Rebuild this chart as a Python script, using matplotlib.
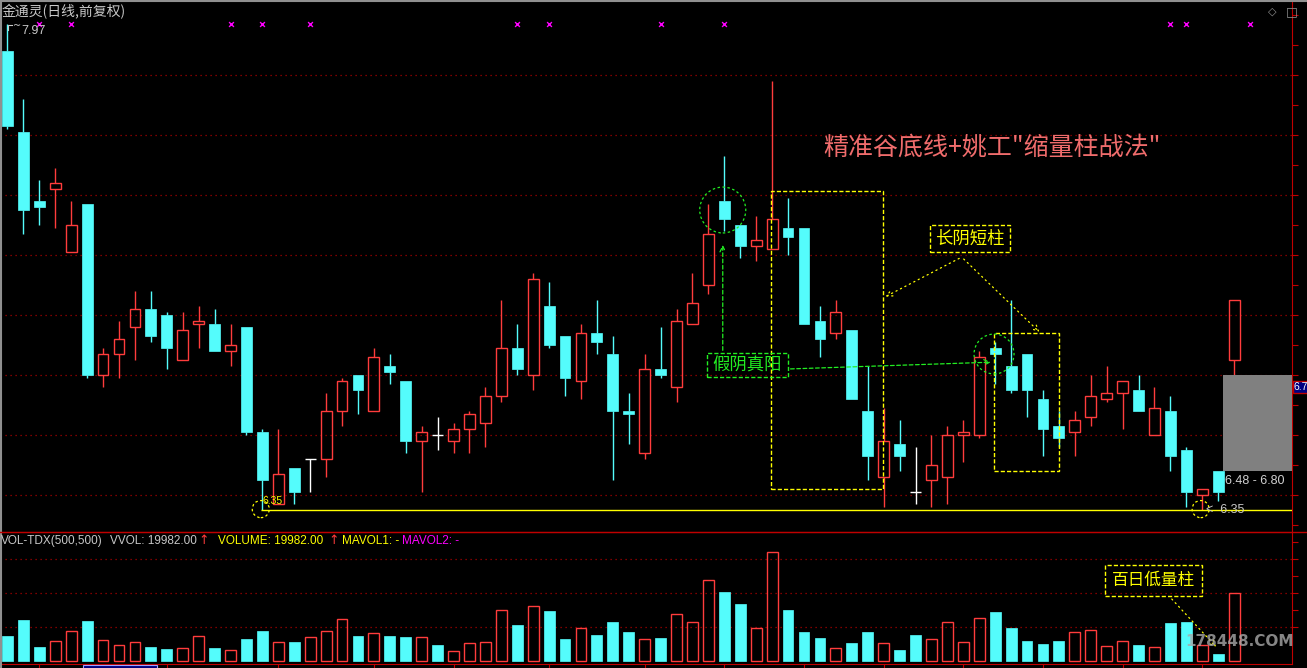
import matplotlib
matplotlib.use("Agg")
import matplotlib.pyplot as plt
from matplotlib.patches import Rectangle, Ellipse

plt.rcParams['font.family'] = ['Noto Sans CJK SC', 'DejaVu Sans']

# ---- données (cours journaliers) ----
opens = [7.88, 7.61, 7.38, 7.42, 7.21, 7.37, 6.80, 6.87, 6.96, 7.02,
         7.00, 6.85, 6.97, 6.97, 6.88, 6.96, 6.61, 6.37, 6.49, 6.52,
         6.52, 6.68, 6.80, 6.68, 6.83, 6.78, 6.58, 6.60, 6.58, 6.62,
         6.64, 6.73, 6.89, 6.80, 7.03, 6.93, 6.78, 6.94, 6.87, 6.68,
         6.54, 6.82, 6.76, 6.97, 7.10, 7.38, 7.30, 7.23, 7.22, 7.29,
         7.29, 6.98, 6.94, 6.95, 6.68, 6.46, 6.57, 6.41, 6.45, 6.46,
         6.60, 6.60, 6.89, 6.83, 6.87, 6.72, 6.63, 6.61, 6.66, 6.72,
         6.74, 6.75, 6.60, 6.68, 6.55, 6.40, 6.48, 6.85]
highs = [7.97, 7.72, 7.45, 7.49, 7.38, 7.37, 6.89, 6.98, 7.08, 7.08,
         7.01, 7.01, 7.03, 7.02, 6.97, 6.96, 6.62, 6.62, 6.49, 6.52,
         6.74, 6.79, 6.80, 6.89, 6.87, 6.78, 6.63, 6.66, 6.64, 6.68,
         6.76, 7.05, 6.97, 7.14, 7.11, 6.93, 6.97, 7.05, 6.93, 6.74,
         6.87, 6.96, 7.02, 7.14, 7.37, 7.53, 7.30, 7.33, 7.78, 7.39,
         7.29, 7.03, 7.05, 6.95, 6.83, 6.69, 6.65, 6.56, 6.60, 6.63,
         6.65, 6.88, 6.91, 7.05, 6.87, 6.75, 6.68, 6.68, 6.80, 6.83,
         6.78, 6.80, 6.76, 6.73, 6.56, 6.42, 6.48, 7.05]
lows = [7.62, 7.27, 7.30, 7.29, 7.21, 6.79, 6.76, 6.79, 6.85, 6.91,
        6.82, 6.85, 6.89, 6.88, 6.83, 6.60, 6.35, 6.37, 6.37, 6.41,
        6.46, 6.63, 6.67, 6.68, 6.77, 6.54, 6.41, 6.55, 6.54, 6.54,
        6.56, 6.71, 6.80, 6.75, 6.89, 6.73, 6.72, 6.87, 6.45, 6.57,
        6.52, 6.79, 6.71, 6.97, 7.07, 7.28, 7.19, 7.18, 7.22, 7.20,
        6.97, 6.86, 6.92, 6.72, 6.45, 6.36, 6.48, 6.37, 6.36, 6.37,
        6.51, 6.59, 6.77, 6.74, 6.66, 6.53, 6.56, 6.53, 6.63, 6.71,
        6.62, 6.68, 6.60, 6.48, 6.36, 6.35, 6.38, 6.80]
closes = [7.63, 7.35, 7.36, 7.44, 7.30, 6.80, 6.87, 6.92, 7.02, 6.93,
          6.89, 6.95, 6.98, 6.88, 6.90, 6.61, 6.45, 6.47, 6.41, 6.52,
          6.68, 6.78, 6.75, 6.86, 6.81, 6.58, 6.61, 6.60, 6.62, 6.67,
          6.73, 6.89, 6.82, 7.12, 6.90, 6.79, 6.94, 6.91, 6.68, 6.67,
          6.82, 6.80, 6.98, 7.04, 7.27, 7.32, 7.23, 7.25, 7.32, 7.26,
          6.97, 6.92, 7.01, 6.72, 6.53, 6.58, 6.53, 6.41, 6.50, 6.60,
          6.61, 6.86, 6.87, 6.75, 6.75, 6.62, 6.59, 6.65, 6.73, 6.74,
          6.78, 6.68, 6.69, 6.53, 6.41, 6.42, 6.41, 7.05]
volumes = [7400, 12100, 4100, 5800, 8850, 11800, 6200, 4600, 5500, 4100,
           3500, 3700, 7300, 3800, 3200, 6500, 8850, 5500, 5600, 7000,
           8850, 12300, 7400, 8200, 7400, 7100, 7000, 4700, 2900, 5200,
           5500, 15000, 10600, 16100, 14750, 6500, 9600, 7700, 11500, 8550,
           6400, 6800, 13800, 11400, 23800, 20400, 16800, 9600, 32100, 15000,
           8550, 6800, 3700, 5300, 8550, 5200, 3250, 7700, 6400, 11400,
           5500, 12600, 14450, 9700, 5900, 5000, 5900, 8500, 9050, 4300,
           5800, 4700, 4000, 11200, 11500, 4600, 2050, 19982]
signal_days = [2, 4, 14, 16, 19, 32, 34, 41, 45, 73, 74, 78]
week_ticks = [2, 5, 10, 17, 23, 28, 34, 40, 45, 50, 55, 60, 65, 70, 75]
price_grid = [6.4, 6.6, 6.8, 7.0, 7.2, 7.4, 7.6, 7.8]
vol_grid = [10000, 20000, 30000]
zone_low, zone_high = 6.48, 6.80

RED = "#ff3c3c"
CYAN = "#54fcfc"
GRID = "#a80000"
W, H = 1307, 668

fig = plt.figure(figsize=(W / 100, H / 100), dpi=100, facecolor="black")
ax = fig.add_axes([0, (H - 532) / H, 1292 / W, 532 / H])
axv = fig.add_axes([0, (H - 664) / H, 1292 / W, 132 / H])
ov = fig.add_axes([0, 0, 1, 1])
ov.set_xlim(0, W)
ov.set_ylim(H, 0)
ov.axis("off")
ov.patch.set_alpha(0)

step = 15.93
xl = (-7.5 / step, (1292 - 7.5) / step)
for a in (ax, axv):
    a.set_facecolor("black")
    a.set_xlim(xl)
    a.set_xticks([])
    for s in a.spines.values():
        s.set_visible(False)
ax.set_ylim(6.2767, 8.05)
axv.set_ylim(-885, 38055)

# grilles pointillées
for g in price_grid:
    ax.axhline(g, color=GRID, lw=0.9, ls=(0, (1, 3)), zorder=0)
for g in vol_grid:
    axv.axhline(g, color=GRID, lw=0.9, ls=(0, (1, 3)), zorder=0)

# bougies
bw = 0.68
for i, (o, h, l, c) in enumerate(zip(opens, highs, lows, closes)):
    top, bot = max(o, c), min(o, c)
    if c > o:
        col = RED
    elif c < o:
        col = CYAN
    else:
        col = "white"
    ax.vlines(i, top, h, color=col, lw=1.0, zorder=2)
    ax.vlines(i, l, bot, color=col, lw=1.0, zorder=2)
    if c == o:
        ax.hlines(c, i - bw / 2, i + bw / 2, color=col, lw=1.0, zorder=2)
    elif c > o:
        ax.add_patch(Rectangle((i - bw / 2, bot), bw, top - bot, facecolor="none",
                               edgecolor=col, lw=1.0, zorder=3))
    else:
        ax.add_patch(Rectangle((i - bw / 2, bot), bw, top - bot, facecolor=col,
                               edgecolor=col, lw=0.5, zorder=3))

# volumes
for i, v in enumerate(volumes):
    up = closes[i] > opens[i] or (closes[i] == opens[i] and i > 0 and closes[i] >= closes[i - 1])
    if up:
        axv.add_patch(Rectangle((i - bw / 2, 0), bw, v, facecolor="none", edgecolor=RED, lw=1.0, zorder=3))
    else:
        axv.add_patch(Rectangle((i - bw / 2, 0), bw, v, facecolor=CYAN, edgecolor=CYAN, lw=0.5, zorder=3))

# signaux (croix magenta en haut)
ax.scatter(signal_days, [0.955] * len(signal_days), marker="x", s=12, color="#ff00ff",
           lw=1.0, transform=ax.get_xaxis_transform(), zorder=4)

# axe de droite
for a in (ax, axv):
    a.spines["right"].set_visible(True)
    a.spines["right"].set_color("#c00000")
    a.yaxis.tick_right()
    a.tick_params(axis="y", colors="#c00000", length=4, width=0.8, labelright=False, direction="out")
ax.set_yticks([6.3 + 0.1 * k for k in range(18)])
axv.set_yticks([10000, 15000, 20000, 25000, 30000, 35000])
axv.spines["top"].set_visible(True)
axv.spines["top"].set_color("#c00000")
axv.spines["bottom"].set_visible(True)
axv.spines["bottom"].set_color("#c00000")
axv.set_xticks(week_ticks)
axv.tick_params(axis="x", colors="#c00000", length=4, width=0.8, labelbottom=False, direction="out")

# ligne de support au plus bas
support = min(lows)
ax.hlines(support, 15.9, xl[1], color="yellow", lw=1.0, zorder=4)
for cx in (15.9, 74.9):
    ax.add_patch(Ellipse((cx, support + 0.003), 1.07, 0.057, fill=False, edgecolor="yellow",
                         lw=0.9, ls=(0, (2, 2)), zorder=5))
ax.text(16.0, 6.38, f"{support:.2f}", color="yellow", fontsize=7.5, family="Liberation Sans",
        va="center", ha="left", zorder=6)
ax.text(75.25, support, f"<  {support:.2f}", color="#c8c8c8", fontsize=9, family="Liberation Sans",
        va="center", ha="left", zorder=6)
ax.text(0.85, 7.947, f"{max(highs):.2f}", color="#c8c8c8", fontsize=9, family="Liberation Sans",
        va="center", ha="left", zorder=6)
ax.plot([0.02, 0.02, 0.3], [7.95, 7.967, 7.967], color="#c8c8c8", lw=0.8, zorder=6)
ax.text(0.32, 7.962, "~", color="#c8c8c8", fontsize=7, family="DejaVu Sans",
        va="center", ha="left", zorder=6)

# zone grise
ax.add_patch(Rectangle((76.3, zone_low), xl[1] - 76.3, zone_high - zone_low, facecolor="#808080",
                       edgecolor="none", zorder=6))
ax.text(76.45, 6.447, f"{zone_low:.2f} - {zone_high:.2f}", color="#d0d0d0", fontsize=9,
        family="Liberation Sans", va="center", ha="left", zorder=6)

# titre de la méthode
ax.text(61.8, 7.557, '精准谷底线+姚工"缩量柱战法"', color="#f06c6c", fontsize=18,
        ha="center", va="center", zorder=6)

dash = (0, (3, 1.5))
# boîtes jaunes
ax.add_patch(Rectangle((47.95, 6.42), 7.0, 0.995, fill=False, edgecolor="yellow", lw=1.0, ls=dash, zorder=5))
ax.add_patch(Rectangle((61.95, 6.48), 4.04, 0.46, fill=False, edgecolor="yellow", lw=1.0, ls=dash, zorder=5))
ax.add_patch(Rectangle((57.9, 7.21), 5.03, 0.09, fill=False, edgecolor="yellow", lw=1.0, ls=dash, zorder=5))
ax.text(60.42, 7.255, "长阴短柱", color="yellow", fontsize=12.5, ha="center", va="center", zorder=6)
for tgt in ((54.96, 7.057), (64.9, 6.937)):
    ax.annotate("", xy=tgt, xytext=(59.9, 7.193),
                arrowprops=dict(arrowstyle="->", color="yellow", lw=0.9, ls=(0, (1, 3))), zorder=6)

# annotations vertes
green = "#22ee22"
ax.add_patch(Ellipse((44.9, 7.35), 2.89, 0.153, fill=False, edgecolor=green, lw=0.9, ls=(0, (2, 2)), zorder=5))
ax.add_patch(Ellipse((61.93, 6.87), 2.51, 0.133, fill=False, edgecolor=green, lw=0.9, ls=(0, (2, 2)), zorder=5))
ax.add_patch(Rectangle((43.91, 6.792), 5.07, 0.08, fill=False, edgecolor=green, lw=1.0, ls=dash, zorder=5))
ax.text(46.45, 6.832, "假阴真阳", color=green, fontsize=12.5, ha="center", va="center", zorder=6)
ax.annotate("", xy=(44.9, 7.243), xytext=(44.9, 6.873),
            arrowprops=dict(arrowstyle="->", color=green, lw=0.9, ls=(0, (3, 2))), zorder=6)
ax.annotate("", xy=(61.9, 6.843), xytext=(48.98, 6.82),
            arrowprops=dict(arrowstyle="->", color=green, lw=0.9, ls=(0, (3, 2))), zorder=6)

# volume : 百日低量柱
axv.add_patch(Rectangle((68.9, 19090), 6.07, 9230, fill=False, edgecolor="yellow", lw=1.0, ls=dash, zorder=5))
axv.text(71.94, 23700, "百日低量柱", color="yellow", fontsize=12, ha="center", va="center", zorder=6)
axv.annotate("", xy=(75.99, 3540), xytext=(72.97, 18880),
             arrowprops=dict(arrowstyle="->", color="yellow", lw=0.9, ls=(0, (1, 3))), zorder=6)

# cadre et en-têtes
ov.plot([0, W], [1, 1], color="#909090", lw=1.5)
ov.plot([1, 1], [0, H], color="#909090", lw=1.5)
ov.plot([0, W], [532, 532], color="#c00000", lw=1.0)
ov.text(2, 12, "金通灵(日线,前复权)", color="#c8c8c8", fontsize=10, va="center", ha="left")
ov.text(1268, 12, "◇", color="#909090", fontsize=8, va="center", ha="left", family="DejaVu Sans")
ov.text(1286, 12, "□", color="#909090", fontsize=9, va="center", ha="left", family="DejaVu Sans")
ov.text(1294, 387, "6.7", color="white", fontsize=7.5, va="center", ha="left", family="Liberation Sans",
        bbox=dict(boxstyle="square,pad=0.12", facecolor="#000080", edgecolor="#c00000", lw=1))

hdr = [(1, "VOL-TDX(500,500)", "#c8c8c8"), (110, "VVOL: 19982.00", "#c8c8c8"),
       (218, "VOLUME: 19982.00", "yellow"), (342, "MAVOL1: -", "yellow"),
       (402, "MAVOL2: -", "#ff00ff")]
for x, t, c in hdr:
    ov.text(x, 541, t, color=c, fontsize=8.5, va="center", ha="left", family="Liberation Sans")
for x in (198, 328):
    ov.text(x, 540, "↑", color=RED, fontsize=9, va="center", ha="left", family="DejaVu Sans")
ov.add_patch(Rectangle((83, 665), 74, 8, facecolor="#00007f", edgecolor="#a0a0ff", lw=0.8))

ov.text(1240, 642, "178448.COM", color="#a8a8a8", alpha=0.8, fontsize=11, fontweight="bold",
        family="DejaVu Sans", va="center", ha="center")

fig.savefig("out.png", dpi=100, facecolor="black")
